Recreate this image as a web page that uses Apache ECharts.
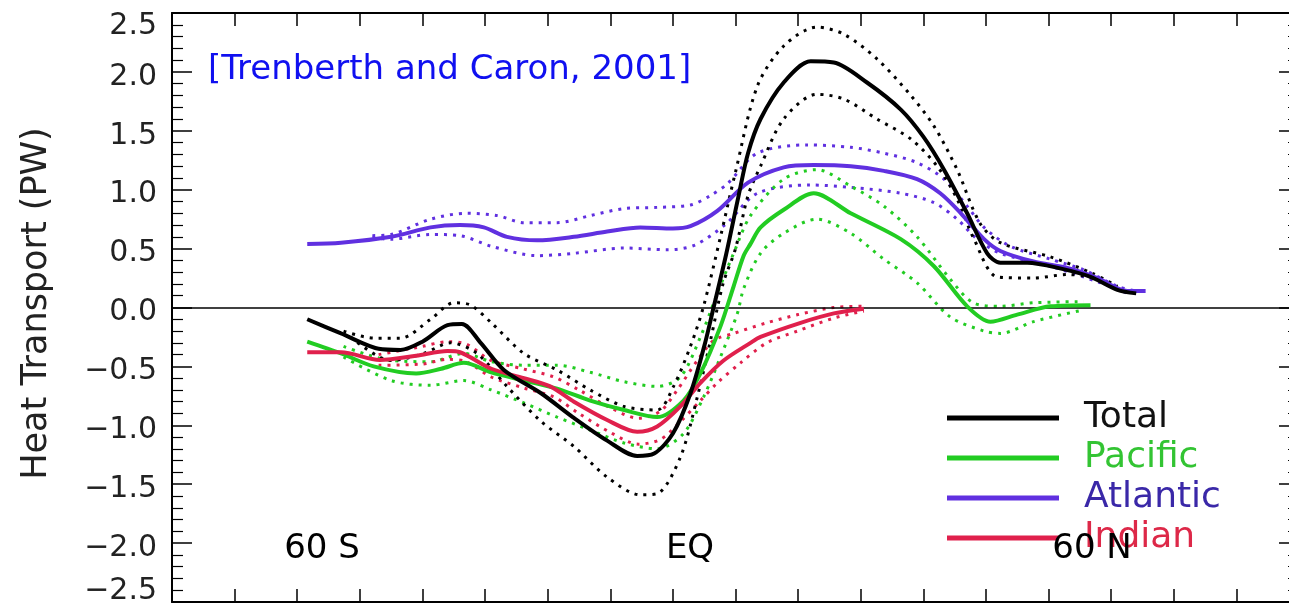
<!DOCTYPE html>
<html>
<head>
<meta charset="utf-8">
<title>Ocean heat transport</title>
<script src="https://cdn.jsdelivr.net/npm/echarts@6/dist/echarts.min.js"></script>
<style>
    html, body { margin: 0; padding: 0; background: #fff; }
    #chart { width: 1289px; height: 605px; }
</style>
</head>
<body>
<div id="chart"></div>
<script>
// [latitude (deg, south negative), northward heat transport (PW)]
const totalMean = [[-68.4,-0.10],[-63,-0.22],[-57,-0.35],[-53.5,-0.36],[-50,-0.29],[-46,-0.15],[-43.7,-0.14],[-40.7,-0.30],[-37,-0.53],[-31,-0.73],[-26,-0.93],[-20.5,-1.13],[-15.7,-1.26],[-13,-1.24],[-10,-1.07],[-7.2,-0.73],[-5,-0.33],[-3.5,0.0],[-1.5,0.45],[0.5,0.95],[2,1.31],[4,1.6],[7.7,1.91],[12,2.09],[15.7,2.08],[21,1.91],[26.4,1.68],[30,1.45],[33.3,1.17],[37,0.80],[40.2,0.46],[42.3,0.38],[46.6,0.38],[52,0.33],[56.7,0.26],[61,0.15],[64,0.12]];
const totalHigh = [[-62.6,-0.20],[-57.8,-0.26],[-53.5,-0.26],[-48.7,-0.10],[-45,0.04],[-42.3,0.02],[-39,-0.13],[-33.8,-0.39],[-28.5,-0.53],[-23.2,-0.70],[-17.8,-0.84],[-12.5,-0.87],[-9.9,-0.67],[-7.2,-0.33],[-5.1,0.01],[-2.4,0.60],[0,1.15],[3.5,1.88],[7.7,2.22],[13,2.38],[17.3,2.32],[22.6,2.11],[28,1.80],[31.7,1.54],[35.4,1.17],[39,0.72],[42.3,0.55],[50.3,0.43],[57,0.29],[61,0.18]];
const totalLow = [[-61.5,-0.25],[-55,-0.45],[-49.8,-0.39],[-45.5,-0.30],[-41.3,-0.39],[-36.5,-0.67],[-31.2,-0.96],[-25.8,-1.18],[-20.5,-1.44],[-15.2,-1.59],[-12.5,-1.58],[-8.8,-1.27],[-6.1,-0.76],[-4,-0.28],[-2,0.20],[0,0.50],[2,0.95],[4,1.20],[7.7,1.60],[13,1.81],[17.3,1.77],[22.6,1.60],[28,1.43],[32.2,1.20],[35.4,0.92],[38.1,0.58],[41.8,0.26],[47.6,0.25],[53,0.28],[57.2,0.25],[61,0.17]];

const pacificMean = [[-68.4,-0.29],[-63,-0.39],[-57.8,-0.50],[-51,-0.56],[-47,-0.52],[-43.4,-0.47],[-39,-0.55],[-33.8,-0.62],[-28.5,-0.69],[-23.2,-0.79],[-17.8,-0.87],[-12.5,-0.93],[-8.3,-0.79],[-5.6,-0.56],[-2.4,-0.16],[-0.3,0.18],[1.3,0.44],[2.4,0.54],[4,0.68],[7.7,0.83],[12.5,0.97],[18.4,0.80],[26.4,0.58],[31.7,0.35],[37,0.01],[40.7,-0.12],[45,-0.06],[50.3,0.01],[56.7,0.02]];
const pacificHigh = [[-62.6,-0.33],[-55,-0.45],[-48.7,-0.46],[-43.4,-0.39],[-39,-0.46],[-33.8,-0.49],[-28.5,-0.49],[-23.2,-0.55],[-17.8,-0.63],[-12.5,-0.67],[-8.8,-0.59],[-5.6,-0.25],[-2.9,0.12],[-0.3,0.46],[2.4,0.78],[7.7,1.09],[13,1.17],[18.4,1.03],[23.7,0.86],[29,0.60],[34.3,0.24],[38,0.04],[42.3,0.01],[47.6,0.04],[55.6,0.05]];
const pacificLow = [[-62.6,-0.42],[-55,-0.62],[-48.7,-0.66],[-43.4,-0.62],[-39,-0.70],[-33.8,-0.81],[-28.5,-0.93],[-23.2,-1.04],[-17.8,-1.15],[-12.5,-1.20],[-8.3,-1.07],[-5.1,-0.76],[-2.4,-0.42],[0.3,-0.05],[1.3,0.16],[4,0.46],[7.7,0.63],[13,0.75],[18.4,0.63],[23.7,0.41],[29,0.21],[34.3,-0.08],[39.7,-0.20],[42.3,-0.22],[47.6,-0.12],[55.6,-0.02]];

const atlanticMean = [[-68.4,0.54],[-63,0.55],[-55,0.60],[-48.7,0.68],[-44,0.70],[-40.2,0.68],[-36.5,0.60],[-31.7,0.57],[-25.8,0.60],[-20.5,0.645],[-15.2,0.68],[-10,0.67],[-7.2,0.69],[-2.9,0.82],[2,1.06],[7.7,1.19],[12.5,1.21],[18.4,1.20],[23.7,1.16],[29,1.09],[32.7,0.97],[36,0.80],[39.7,0.58],[42.3,0.48],[47.6,0.39],[53,0.335],[57.8,0.25],[62.6,0.14],[65.5,0.14]];
const atlanticHigh = [[-58,0.61],[-55,0.62],[-48.7,0.75],[-43,0.80],[-38,0.78],[-33.8,0.72],[-28.5,0.72],[-23.2,0.78],[-17.8,0.84],[-12.5,0.85],[-7.2,0.87],[-4,0.95],[-1.3,1.05],[3.5,1.31],[11.5,1.38],[18.4,1.36],[23.7,1.31],[29,1.23],[33.3,1.09],[37,0.86],[39.7,0.68],[43.9,0.52],[50.3,0.41],[55.6,0.32],[61,0.18],[64,0.14]];
const atlanticLow = [[-58,0.59],[-55,0.58],[-48.7,0.62],[-44,0.61],[-39,0.52],[-31.7,0.44],[-25.8,0.46],[-17.8,0.505],[-10.9,0.49],[-6.5,0.53],[-1.5,0.71],[3.5,0.97],[12,1.04],[18.4,1.02],[26.4,0.97],[31.7,0.89],[35.4,0.75],[38.6,0.58],[42.3,0.46],[50.3,0.35],[58.3,0.21],[62.6,0.12]];

const indianMean = [[-68.4,-0.38],[-63,-0.38],[-56.8,-0.445],[-51,-0.41],[-46,-0.37],[-44,-0.38],[-39,-0.52],[-33.8,-0.60],[-29.6,-0.67],[-25.8,-0.80],[-20.5,-0.955],[-15.7,-1.055],[-12.5,-1.01],[-8.8,-0.84],[-5.6,-0.64],[-1.9,-0.45],[2.4,-0.30],[4,-0.25],[10.4,-0.13],[15.7,-0.05],[20.5,-0.01]];
const indianHigh = [[-57,-0.40],[-50,-0.33],[-46,-0.29],[-43,-0.31],[-39,-0.45],[-34,-0.52],[-29,-0.59],[-25,-0.70],[-20,-0.85],[-15.5,-0.94],[-12,-0.88],[-9.3,-0.70],[-6.1,-0.45],[-3.5,-0.28],[-0.3,-0.22],[5,-0.13],[10,-0.06],[15.7,0.0],[20.5,0.01]];
const indianLow = [[-57,-0.49],[-50,-0.48],[-46,-0.44],[-43,-0.46],[-39,-0.59],[-34,-0.68],[-29,-0.76],[-25,-0.90],[-20,-1.06],[-15.5,-1.16],[-12,-1.12],[-9,-0.98],[-5.6,-0.79],[-2.9,-0.64],[0.8,-0.47],[5,-0.30],[9.9,-0.20],[15.7,-0.09],[20.5,-0.03]];

const basinNames = ['Total', 'Pacific', 'Atlantic', 'Indian'];

const myChart = echarts.init(document.getElementById('chart'));

const lineColor = { Total: '#000000', Pacific: '#22cc22', Atlantic: '#6030e0', Indian: '#e0204c' };
const legendColor = { Total: '#111111', Pacific: '#33c433', Atlantic: '#3a28a8', Indian: '#dd2848' };

// solid mean curve
function meanLine(name, data) {
    return {
        name: name, type: 'line', data: data,
        smooth: 0.3, symbol: 'none', z: 5,
        lineStyle: { color: lineColor[name], width: 4 },
        itemStyle: { color: lineColor[name] }
    };
}
// dotted error bound, kept out of the legend
function boundLine(name, data) {
    return {
        name: name + ' bound', type: 'line', data: data,
        smooth: 0.3, symbol: 'none', z: 3, silent: true,
        lineStyle: { color: lineColor[name], width: 3, type: [3, 6] }
    };
}

const yTick = { show: true, inside: true, length: 20, lineStyle: { color: '#000', width: 1.5 } };
const yMinor = { show: true, splitNumber: 5, length: 11, lineStyle: { color: '#000', width: 1.2 } };
const xTick = { show: true, inside: true, length: 13, lineStyle: { color: '#000', width: 1.5 } };

// tick labels sit a little low; the end ones are pushed inside the picture
const labelFont = { fontFamily: 'DejaVu Sans', fontSize: 30, color: '#222' };
function yLabel(v) {
    const s = (v < 0 ? '\u2212' : '') + Math.abs(v).toFixed(1);
    if (v >= 2.5) return '{top|' + s + '}';
    if (v <= -2.5) return '{bot|' + s + '}';
    return '{mid|' + s + '}';
}

myChart.setOption({
    animation: false,
    backgroundColor: '#fff',
    // the right frame of the original sits just past the picture's edge
    grid: { left: 172, width: 1127, top: 13, bottom: 3, outerBoundsMode: 'none', containLabel: false },
    xAxis: [
        {
            type: 'value', min: -90, max: 90, interval: 10, position: 'bottom',
            axisLine: { onZero: false, lineStyle: { color: '#000', width: 2 } },
            axisTick: xTick, axisLabel: { show: false }, splitLine: { show: false }
        },
        {
            type: 'value', min: -90, max: 90, interval: 10, position: 'top',
            axisLine: { onZero: false, lineStyle: { color: '#000', width: 2 } },
            axisTick: xTick, axisLabel: { show: false }, splitLine: { show: false }
        }
    ],
    yAxis: [
        {
            type: 'value', min: -2.5, max: 2.5, interval: 0.5, position: 'left',
            name: 'Heat Transport (PW)', nameLocation: 'middle', nameGap: 118,
            nameTextStyle: { fontFamily: 'DejaVu Sans', fontSize: 35, color: '#222', padding: [0, 0, 0, 8] },
            axisLine: { onZero: false, lineStyle: { color: '#000', width: 2 } },
            axisTick: yTick, minorTick: yMinor,
            axisLabel: {
                margin: 15, ...labelFont,
                formatter: yLabel,
                rich: {
                    top: { ...labelFont, padding: [26, 0, 0, 0] },
                    mid: { ...labelFont, padding: [10, 0, 0, 0] },
                    bot: { ...labelFont, padding: [0, 0, 22, 0] }
                }
            },
            splitLine: { show: false }
        },
        {
            type: 'value', min: -2.5, max: 2.5, interval: 0.5, position: 'right',
            axisLine: { onZero: false, lineStyle: { color: '#000', width: 2 } },
            axisTick: yTick, minorTick: yMinor,
            axisLabel: { show: false }, splitLine: { show: false }
        }
    ],
    legend: {
        data: basinNames.map(n => ({ name: n, textStyle: { color: legendColor[n] } })),
        orient: 'vertical', left: 942, top: 395,
        icon: 'rect', itemWidth: 112, itemHeight: 5, itemGap: 4,
        selectedMode: false,
        textStyle: { fontFamily: 'DejaVu Sans', fontSize: 36, lineHeight: 36, padding: [0, 0, 0, 20] }
    },
    graphic: [
        { type: 'text', x: 208, y: 70, z: 100,
          style: { text: '[Trenberth and Caron, 2001]', fill: '#1010f0', font: '34px "DejaVu Sans"', textVerticalAlign: 'middle' } },
        { type: 'text', x: 322, y: 549, z: 100,
          style: { text: '60 S', fill: '#000', font: '34px "DejaVu Sans"', textAlign: 'center', textVerticalAlign: 'middle' } },
        { type: 'text', x: 690, y: 549, z: 100,
          style: { text: 'EQ', fill: '#000', font: '34px "DejaVu Sans"', textAlign: 'center', textVerticalAlign: 'middle' } },
        { type: 'text', x: 1092, y: 549, z: 100,
          style: { text: '60 N', fill: '#000', font: '34px "DejaVu Sans"', textAlign: 'center', textVerticalAlign: 'middle' } }
    ],
    series: [
        boundLine('Atlantic', atlanticHigh), boundLine('Atlantic', atlanticLow),
        boundLine('Pacific', pacificHigh), boundLine('Pacific', pacificLow),
        boundLine('Indian', indianHigh), boundLine('Indian', indianLow),
        boundLine('Total', totalHigh), boundLine('Total', totalLow),
        meanLine('Atlantic', atlanticMean),
        meanLine('Pacific', pacificMean),
        meanLine('Indian', indianMean),
        Object.assign(meanLine('Total', totalMean), {
            // zero line across the whole plot
            markLine: {
                silent: true, symbol: 'none', label: { show: false },
                lineStyle: { color: '#000', width: 1.5, type: 'solid' },
                data: [{ yAxis: 0 }]
            }
        })
    ]
});
</script>
</body>
</html>
